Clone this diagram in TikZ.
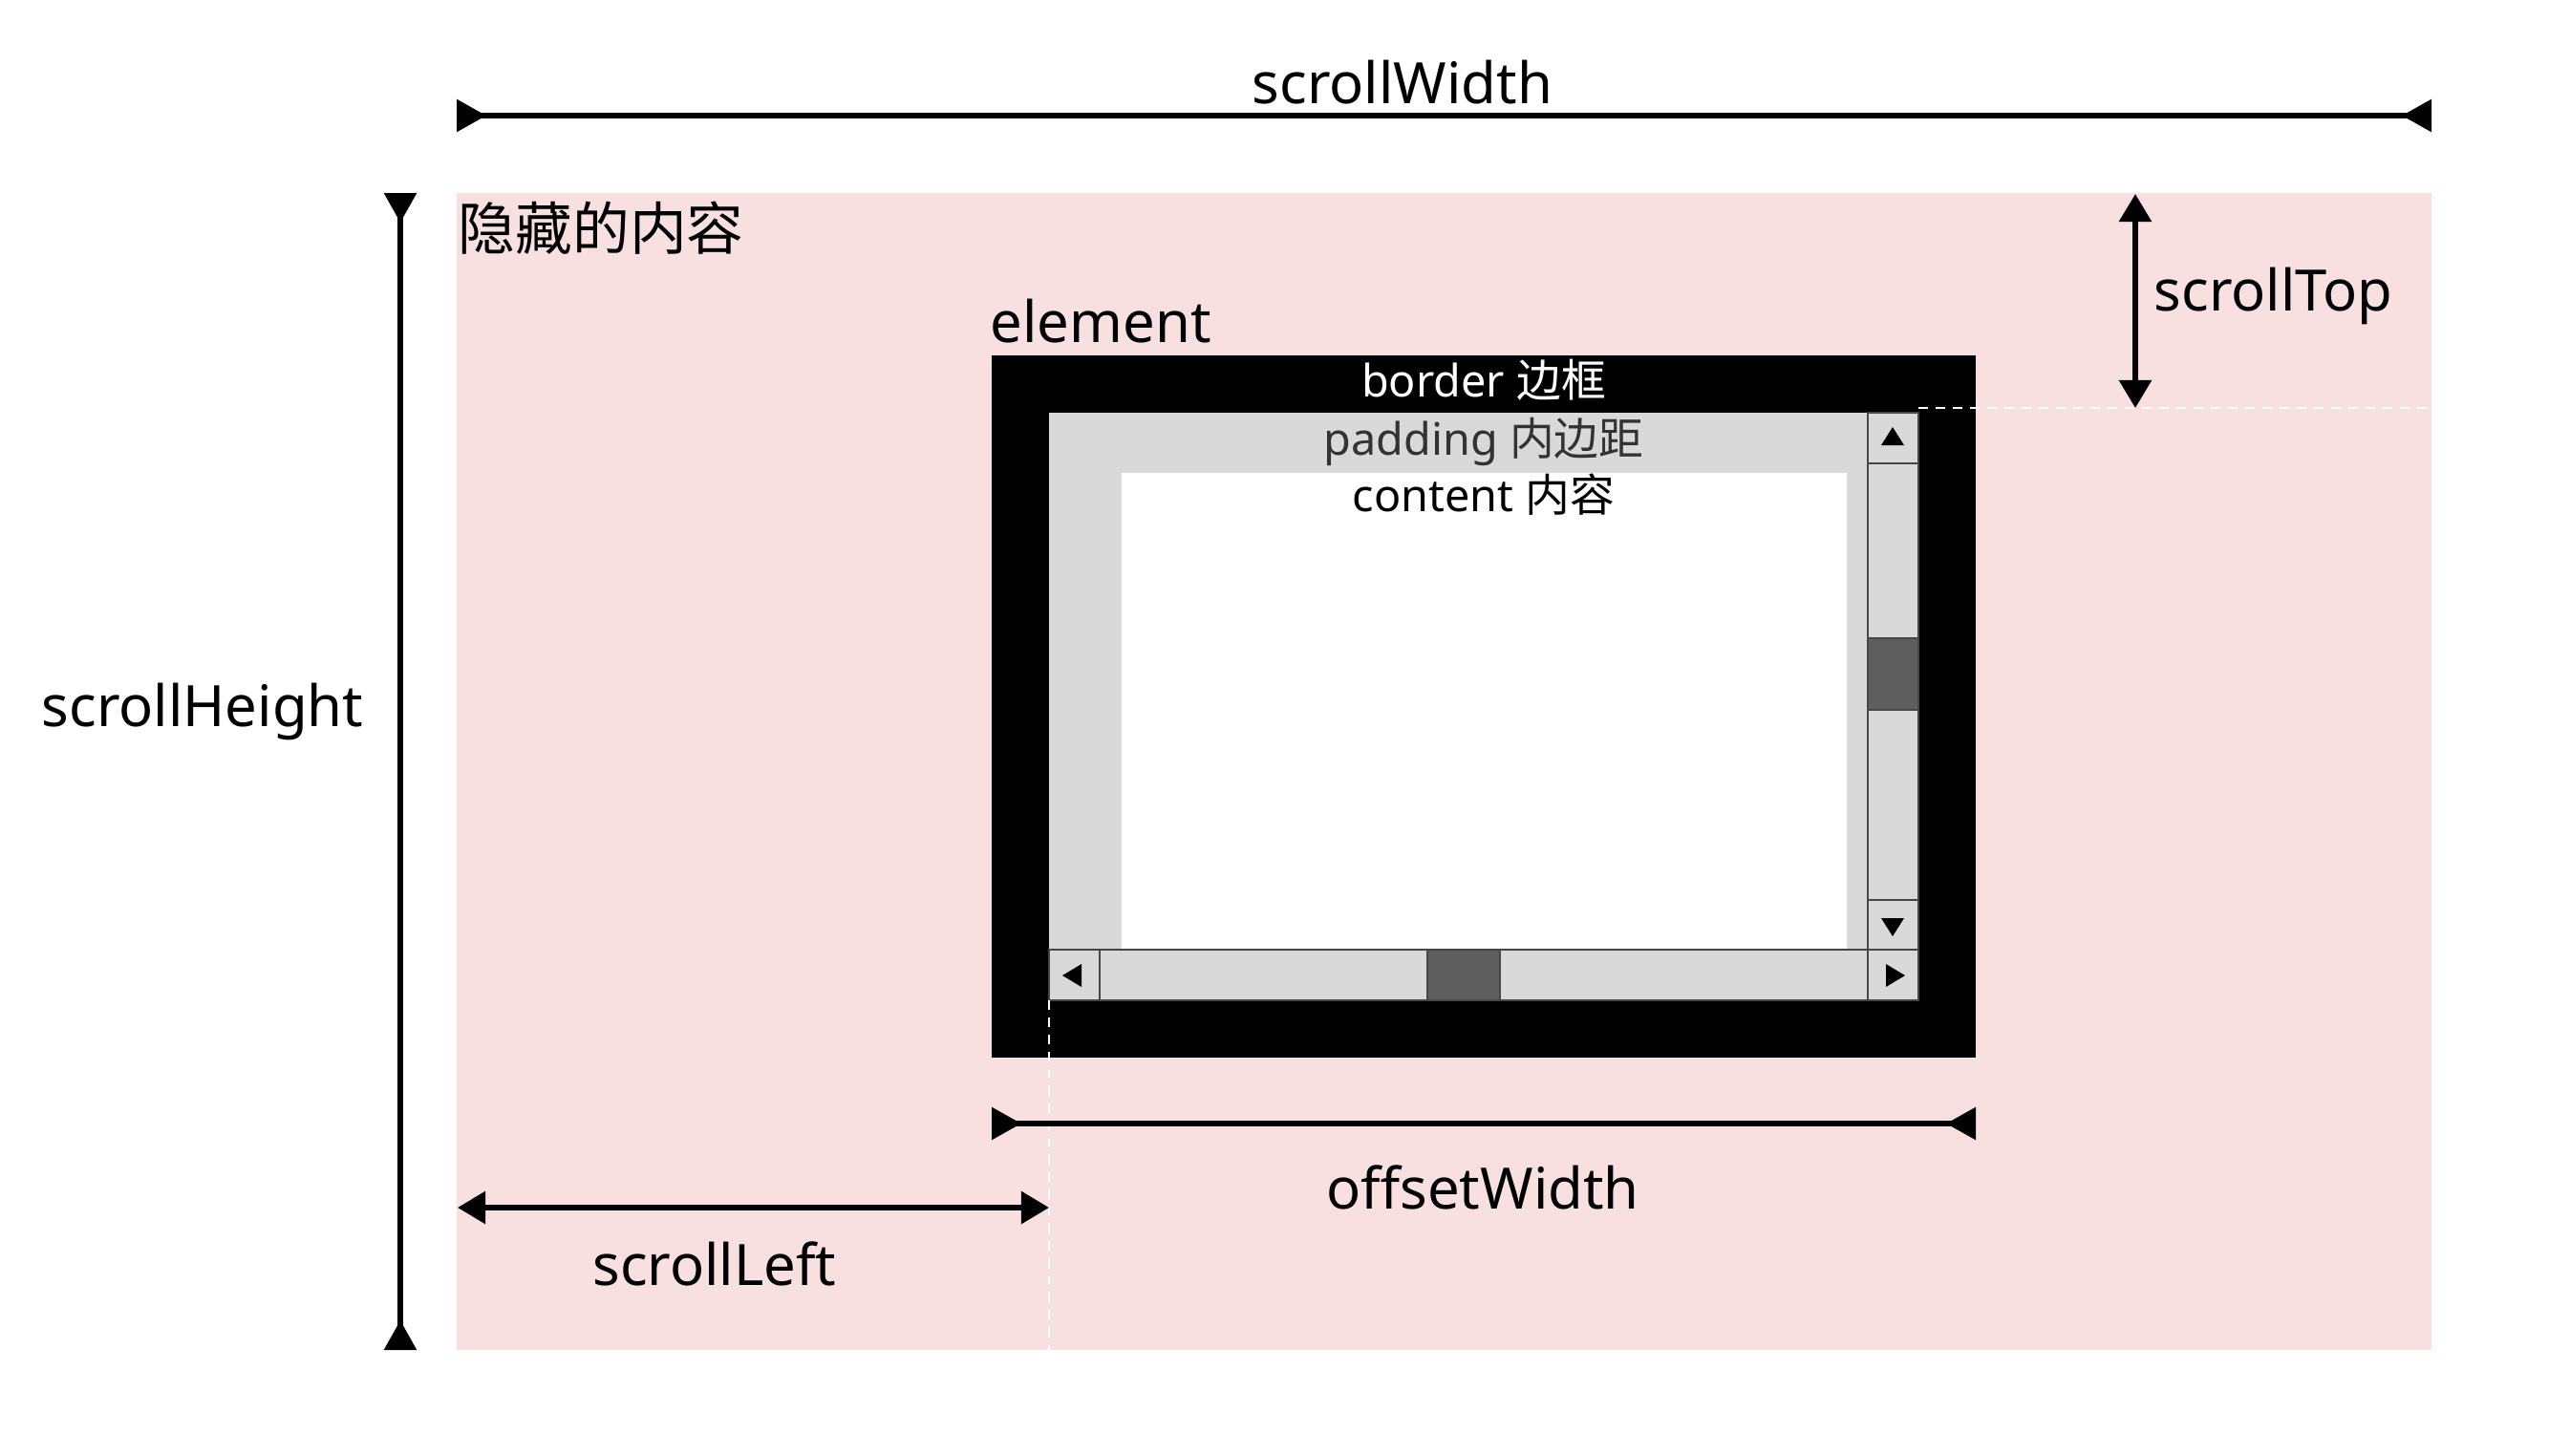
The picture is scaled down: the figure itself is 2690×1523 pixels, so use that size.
\documentclass[tikz,border=0pt]{standalone}
\usepackage{fontspec}
\setmainfont{Noto Sans}
\newfontfamily\cjk{Noto Sans CJK SC}
\usetikzlibrary{arrows.meta,positioning}
\definecolor{hidpink}{RGB}{248,224,225}
\definecolor{padgray}{RGB}{217,217,217}
\definecolor{thumbgray}{RGB}{94,94,94}
\definecolor{sbline}{RGB}{70,70,70}
\definecolor{padtext}{RGB}{51,51,51}
\newcommand\biglbl{\fontsize{17}{20}\selectfont}
\newcommand\smalllbl{\fontsize{13.3}{16}\selectfont}

\begin{document}
\begin{tikzpicture}[x=0.01cm,y=-0.01cm,
	dimline/.style={line width=1.6pt,{Triangle[reversed,length=0.31cm,width=0.33cm]}-{Triangle[reversed,length=0.31cm,width=0.33cm]}},
	gapline/.style={line width=1.6pt,{Triangle[length=0.29cm,width=0.33cm]}-{Triangle[length=0.29cm,width=0.33cm]}},
	guide/.style={white,line width=0.45pt,dash pattern=on 0.1cm off 0.08cm},
	sbpart/.style={fill=padgray,draw=sbline,line width=0.4pt},
	lbl/.style={inner sep=0pt,font=\biglbl},
	boxlbl/.style={inner sep=0pt,font=\smalllbl}]
		\useasboundingbox (0,0) rectangle (2690,1523);
		% hidden content
		\fill[hidpink] (478,202) rectangle (2545,1413);
		% element: border, padding, content
		\fill[black] (1038,372) rectangle (2068,1107);
		\fill[padgray] (1098,432) rectangle (2008,1047);
		\fill[white] (1174,495) rectangle (1933,994);
		% scrollbars
		\foreach \a/\b in {432/485,485/668,743/942,942/994}
			\draw[sbpart] (1955,\a) rectangle (2008,\b);
		\draw[sbpart,fill=thumbgray] (1955,668) rectangle (2008,743);
		\foreach \a/\b in {1098/1151,1151/1494,1570/1955,1955/2008}
			\draw[sbpart] (\a,994) rectangle (\b,1047);
		\draw[sbpart,fill=thumbgray] (1494,994) rectangle (1570,1047);
		\fill (1981,447) -- ++(12,19) -- ++(-24,0) -- cycle;
		\fill (1981,980) -- ++(12,-19) -- ++(-24,0) -- cycle;
		\fill (1112,1021) -- ++(20,-12) -- ++(0,24) -- cycle;
		\fill (1994,1021) -- ++(-20,-12) -- ++(0,24) -- cycle;
		% end points
		\coordinate (swL) at (478,121);
		\coordinate (swR) at (2545,121);
		\coordinate (shT) at (419,202);
		\coordinate (shB) at (419,1413);
		\coordinate (stT) at (2235,203);
		\coordinate (stB) at (2235,427);
		\coordinate (owL) at (1038,1176);
		\coordinate (owR) at (2068,1176);
		\coordinate (slL) at (479,1264);
		\coordinate (slR) at (1098,1264);
		\coordinate (topG) at (2008,427);
		\coordinate (hidE) at (2545,427);
		\coordinate (padSW) at (1098,1047);
		\coordinate (hidS) at (1098,1413);
		\draw[guide] (topG) -- (hidE);
		\draw[guide] (padSW) -- (hidS);
		\path[dimline]
			(swL) edge (swR)
			(shT) edge (shB)
			(owL) edge (owR);
		\path[gapline]
			(stT) edge (stB)
			(slL) edge (slR);
		% labels
		\draw (1468,108) node [lbl,anchor=base] (scrollwidth) {scrollWidth};
		\draw (212,760) node [lbl,anchor=base] (scrollheight) {scrollHeight};
		\draw (2254,325) node [lbl,anchor=base west] (scrolltop) {scrollTop};
		\draw (748,1345) node [lbl,anchor=base] (scrollleft) {scrollLeft};
		\draw (1552,1265) node [lbl,anchor=base] (offsetwidth) {offsetWidth};
		\draw (479,261) node [lbl,anchor=base west] (hidden) {\cjk 隐藏的内容};
		\draw (1036,358) node [lbl,anchor=base west] (element) {element};
		\draw (1553,415) node [boxlbl,anchor=base,white] (border) {border {\cjk 边框}};
		\draw (1553,476) node [boxlbl,anchor=base,padtext] (padding) {padding {\cjk 内边距}};
		\draw (1553,535) node [boxlbl,anchor=base] (content) {content {\cjk 内容}};
	\end{tikzpicture}
\end{document}
